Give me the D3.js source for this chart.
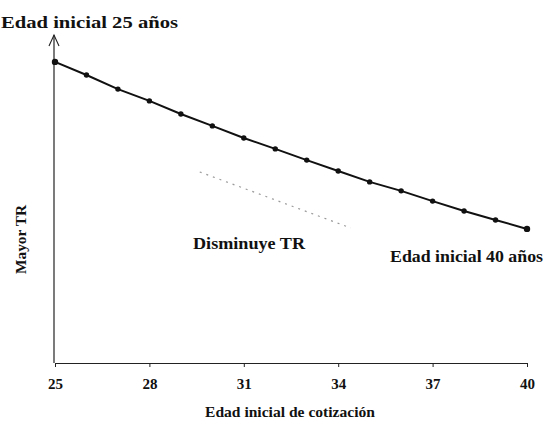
<!DOCTYPE html>
<html><head><meta charset="utf-8">
<script src="https://cdn.jsdelivr.net/npm/d3@7"></script>
<style>html,body{margin:0;padding:0;background:#fff;}</style>
</head>
<body><svg id="c" width="545" height="424"></svg>
<script>
const ages = [25,26,27,28,29,30,31,32,33,34,35,36,37,38,39,40];
const trValues = [94.1,90.0,85.6,81.9,77.8,74.1,70.3,66.9,63.4,60.0,56.6,53.8,50.6,47.5,44.7,41.9];
const xTicks = [25,28,31,34,37,40];
const trendArrow = [{age:29.6,tr:59.7},{age:34.4,tr:42.2}];

const svg = d3.select("#c");
const x = d3.scaleLinear().domain([25,40]).range([55,527]);
const y = d3.scaleLinear().domain([0,100]).range([363,43]);
const FONT = '"Liberation Serif"';
function txt(sel, size){ return sel.style("font-family",FONT).style("font-weight","bold").style("font-size",size+"px").style("fill","#111"); }

// x axis
const xa = svg.append("g").attr("transform","translate(0,363)")
  .call(d3.axisBottom(x).tickValues(xTicks).tickSize(4).tickSizeOuter(0).tickPadding(11).tickFormat(d3.format("d")));
xa.select(".domain").attr("stroke","#222").attr("stroke-width",1.2);
xa.selectAll(".tick line").attr("stroke","#222");
txt(xa.selectAll(".tick text"),15);

// y axis with arrow
svg.append("line").attr("x1",x(25)-1).attr("x2",x(25)-1).attr("y1",363).attr("y2",35).attr("stroke","#222").attr("stroke-width",1.2);
svg.append("path").attr("d",`M${x(25)-6},46 L${x(25)-1},35 L${x(25)+4},46`).attr("fill","none").attr("stroke","#222").attr("stroke-width",1.1);

// dotted trend
svg.append("line").attr("x1",x(trendArrow[0].age)).attr("y1",y(trendArrow[0].tr))
  .attr("x2",x(trendArrow[1].age)).attr("y2",y(trendArrow[1].tr))
  .attr("stroke","#999").attr("stroke-width",1.2).attr("stroke-dasharray","2,5");

// line
const line = d3.line().x((d,i)=>x(ages[i])).y(d=>y(d));
svg.append("path").datum(trValues).attr("d",line).attr("fill","none").attr("stroke","#111").attr("stroke-width",2);
svg.selectAll("circle.p").data(trValues).enter().append("circle")
  .attr("cx",(d,i)=>x(ages[i])).attr("cy",d=>y(d)).attr("r",(d,i)=>(i===0||i===ages.length-1)?3.2:2.7).attr("fill","#111");

// texts
txt(svg.append("text").attr("x",1).attr("y",28).attr("textLength",177).attr("lengthAdjust","spacingAndGlyphs"),17).text("Edad inicial 25 años");
txt(svg.append("text").attr("x",193).attr("y",249).attr("textLength",112).attr("lengthAdjust","spacingAndGlyphs"),16).text("Disminuye TR");
txt(svg.append("text").attr("x",390).attr("y",262).attr("textLength",153).attr("lengthAdjust","spacingAndGlyphs"),16).text("Edad inicial 40 años");
txt(svg.append("text").attr("x",205).attr("y",417).attr("textLength",170).attr("lengthAdjust","spacingAndGlyphs"),15).text("Edad inicial de cotización");
txt(svg.append("text").attr("transform","translate(26,274) rotate(-90)").attr("textLength",69).attr("lengthAdjust","spacingAndGlyphs"),15).text("Mayor TR");
</script></body></html>
